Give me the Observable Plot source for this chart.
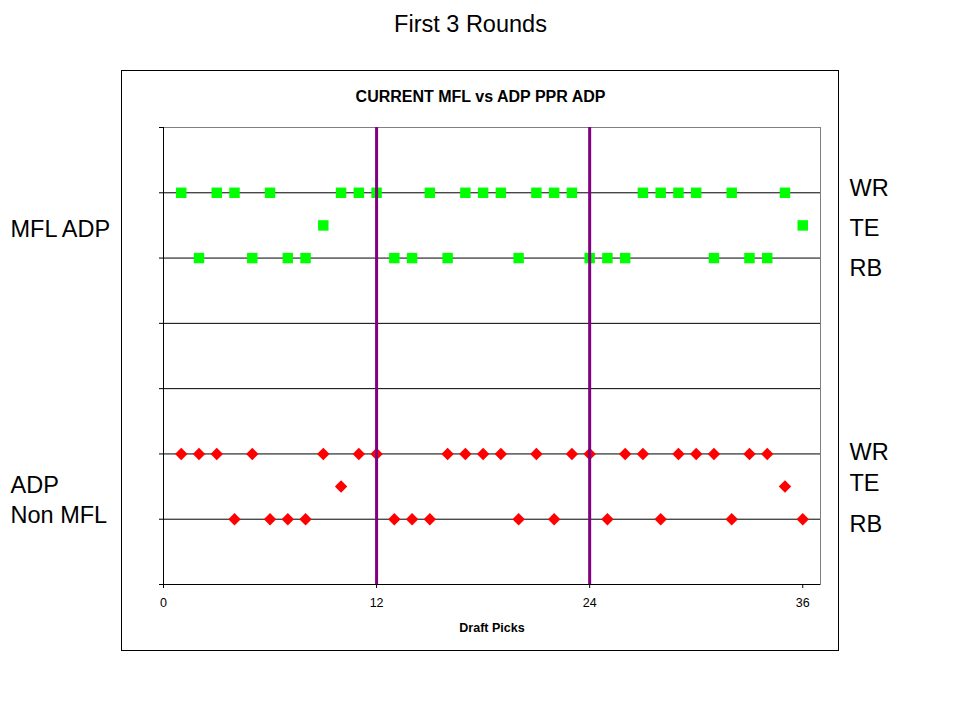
<!DOCTYPE html>
<html>
<head>
<meta charset="utf-8">
<script src="https://cdn.jsdelivr.net/npm/d3@7"></script>
<script src="https://cdn.jsdelivr.net/npm/@observablehq/plot@0.6"></script>
<style>
  html, body { margin: 0; padding: 0; background: #fff; }
  #chart { width: 960px; height: 720px; }
</style>
</head>
<body>
<div id="chart"></div>
<script>
// ---- data ----
const mflWR = [1, 3, 4, 6, 10, 11, 12, 15, 17, 18, 19, 21, 22, 23, 27, 28, 29, 30, 32, 35];
const mflTE = [9, 36];
const mflRB = [2, 5, 7, 8, 13, 14, 16, 20, 24, 25, 26, 31, 33, 34];
const adpWR = [1, 2, 3, 5, 9, 11, 12, 16, 17, 18, 19, 21, 23, 24, 26, 27, 29, 30, 31, 33, 34];
const adpTE = [10, 35];
const adpRB = [4, 6, 7, 8, 13, 14, 15, 20, 22, 25, 28, 32, 36];
const mflLevels = { WR: 6, TE: 5.5, RB: 5 };
const adpLevels = { WR: 2, TE: 1.5, RB: 1 };
const xTicks = [0, 12, 24, 36];
const yTicks = [0, 1, 2, 3, 4, 5, 6, 7];
const gridLevels = [1, 2, 3, 4, 5, 6];
const roundBreaks = [12, 24];
const positions = ["WR", "TE", "RB"];
const rightLabelY = [6.07, 5.45, 4.84, 2.02, 1.55, 0.92];
const leftLabels = ["MFL ADP", "ADP", "Non MFL"];
const leftLabelY = [5.44, 1.52, 1.06];
const pageTitle = "First 3 Rounds";
const chartTitle = "CURRENT MFL vs ADP PPR ADP";
const xLabel = "Draft Picks";

// ---- build tables ----
const mflRows = [
  ...mflWR.map(p => ({ pick: p, level: mflLevels.WR })),
  ...mflTE.map(p => ({ pick: p, level: mflLevels.TE })),
  ...mflRB.map(p => ({ pick: p, level: mflLevels.RB }))
];
const adpRows = [
  ...adpWR.map(p => ({ pick: p, level: adpLevels.WR })),
  ...adpTE.map(p => ({ pick: p, level: adpLevels.TE })),
  ...adpRB.map(p => ({ pick: p, level: adpLevels.RB }))
];
const rightLabels = [...positions, ...positions].map((t, i) => ({ text: t, y: rightLabelY[i] }));
const leftRows = leftLabels.map((t, i) => ({ text: t, y: leftLabelY[i] }));

const font = "'Liberation Sans', Arial, sans-serif";

const chart = Plot.plot({
  width: 960,
  height: 720,
  marginLeft: 163,
  marginRight: 140,
  marginTop: 127,
  marginBottom: 136,
  style: { fontFamily: font, background: "#fff", color: "#000", overflow: "visible" },
  x: { domain: [0, 37] },
  y: { domain: [0, 7] },
  marks: [
    Plot.frame({ stroke: "#808080" }),
    Plot.ruleY(gridLevels, { stroke: "#000", strokeWidth: 1 }),
    Plot.ruleX([0], { stroke: "#000" }),
    Plot.ruleY([0], { stroke: "#000" }),
    Plot.axisX({ ticks: xTicks, tickSize: 4, tickPadding: 10, fontSize: 12.5, label: null, tickFormat: d => String(d) }),
    Plot.axisY({ ticks: yTicks, tickSize: 4, label: null, tickFormat: () => "" }),
    Plot.dot(mflRows, { x: "pick", y: "level", symbol: "square", r: 5.9, fill: "#00ff00", stroke: "none" }),
    Plot.dot(adpRows, { x: "pick", y: "level", symbol: "diamond2", r: 5.6, fill: "#ff0000", stroke: "none" }),
    Plot.ruleX(roundBreaks, { stroke: "#800080", strokeWidth: 3 }),
    Plot.text(rightLabels, { y: "y", text: "text", frameAnchor: "right", dx: 29, textAnchor: "start", lineAnchor: "middle", fontSize: 23.5 }),
    Plot.text(leftRows, { y: "y", text: "text", frameAnchor: "left", dx: -153, textAnchor: "start", lineAnchor: "middle", fontSize: 23.5 }),
    Plot.text([pageTitle], { text: d => d, frameAnchor: "top", lineAnchor: "middle", dy: -103, dx: -21.5, fontSize: 23.5 }),
    Plot.text([chartTitle], { text: d => d, frameAnchor: "top", lineAnchor: "middle", dy: -31, dx: -11.5, fontSize: 16, fontWeight: "bold" }),
    Plot.text([xLabel], { text: d => d, frameAnchor: "bottom", lineAnchor: "middle", dy: 43, fontSize: 12.5, fontWeight: "bold" })
  ]
});

// outer chart box
d3.select(chart).insert("rect", ":first-child")
  .attr("x", 121.5).attr("y", 70.5).attr("width", 717).attr("height", 580)
  .attr("fill", "none").attr("stroke", "#000").attr("stroke-width", 1);

document.getElementById("chart").appendChild(chart);
</script>
</body>
</html>
